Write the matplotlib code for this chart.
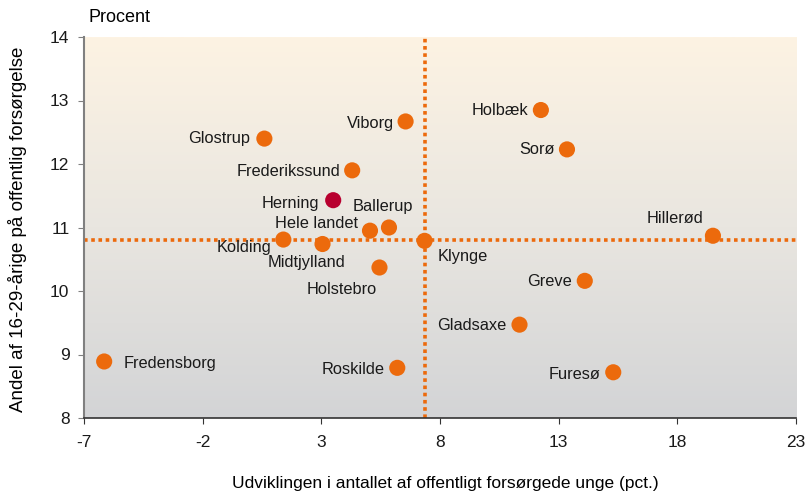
import numpy as np
import matplotlib
matplotlib.use("Agg")
import matplotlib.pyplot as plt
from matplotlib.colors import LinearSegmentedColormap

plt.rcParams['font.family'] = ['Liberation Sans', 'DejaVu Sans']
plt.rcParams['axes.unicode_minus'] = False

# data
names = ["Fredensborg", "Glostrup", "Viborg", "Frederikssund", "Herning", "Ballerup",
         "Hele landet", "Kolding", "Midtjylland", "Klynge", "Holstebro", "Roskilde",
         "Holbæk", "Sorø", "Hillerød", "Greve", "Gladsaxe", "Furesø"]
udvikling = [-6.15, 0.6, 6.55, 4.3, 3.5, 5.85, 5.05, 1.4, 3.05, 7.35, 5.45, 6.2,
             12.25, 13.35, 19.5, 14.1, 11.35, 15.3]
andel = [8.89, 12.4, 12.67, 11.9, 11.43, 11.0, 10.95, 10.81, 10.74, 10.79, 10.37, 8.79,
         12.85, 12.23, 10.87, 10.16, 9.47, 8.72]
highlight = "Herning"
klynge_x = 7.35
klynge_y = 10.81

xticks = [-7, -2, 3, 8, 13, 18, 23]
yticks = [8, 9, 10, 11, 12, 13, 14]

# label placement: (dx px, dy px, ha)
label_pos = {
    "Fredensborg": (19, -2, "left"),
    "Glostrup": (-14, 0, "right"),
    "Viborg": (-12, -2, "right"),
    "Frederikssund": (-12, -1, "right"),
    "Herning": (-14, -3, "right"),
    "Ballerup": (-6, 21, "center"),
    "Hele landet": (-12, 7, "right"),
    "Kolding": (-12, -8, "right"),
    "Midtjylland": (23, -18, "right"),
    "Klynge": (13, -16, "left"),
    "Holstebro": (-38, -22, "center"),
    "Roskilde": (-13, -2, "right"),
    "Holbæk": (-13, 0, "right"),
    "Sorø": (-12, 0, "right"),
    "Hillerød": (-10, 17, "right"),
    "Greve": (-13, -1, "right"),
    "Gladsaxe": (-13, -1, "right"),
    "Furesø": (-13, -2, "right"),
}

orange = "#EC6A0C"
red = "#B8002F"

fig = plt.figure(figsize=(8.05, 4.96), dpi=100)
ax = fig.add_axes([84 / 805, 1 - 418 / 496, (796 - 84) / 805, (418 - 37) / 496])

ax.set_xlim(-7, 23)
ax.set_ylim(8, 14)

# gradient background
grad = LinearSegmentedColormap.from_list("bg", ["#D3D4D6", "#E9E6E0", "#FDF3E3"])
ax.imshow(np.linspace(0, 1, 256).reshape(-1, 1), cmap=grad, aspect="auto",
          extent=[-7, 23, 8, 14], origin="lower", zorder=0)

ax.axhline(klynge_y, color=orange, lw=2.6, ls=(0, (1, 1)), zorder=1)
ax.axvline(klynge_x, color=orange, lw=2.6, ls=(0, (1, 1)), zorder=1)

colors = [red if n == highlight else orange for n in names]
ax.scatter(udvikling, andel, s=135, c=colors, edgecolors="none", zorder=3)

for n, x, y in zip(names, udvikling, andel):
    dx, dy, ha = label_pos[n]
    ax.annotate(n, (x, y), xytext=(dx * 0.72, dy * 0.72), textcoords="offset points",
                ha=ha, va="center", fontsize=11.8, color="#1a1a1a", zorder=4)

ax.set_xticks(xticks)
ax.set_yticks(yticks)
ax.tick_params(direction="out", length=4.5, labelsize=12.5, pad=6)
ax.tick_params(axis="x", pad=8)
for s in ["top", "right"]:
    ax.spines[s].set_visible(False)
ax.spines["left"].set_color("#808080")
ax.spines["left"].set_linewidth(1.5)
ax.spines["bottom"].set_color("#333333")
ax.spines["bottom"].set_linewidth(1.2)
ax.tick_params(axis="y", colors="#808080", labelcolor="#1a1a1a")
ax.tick_params(axis="x", colors="#333333", labelcolor="#1a1a1a")

ax.set_xlabel("Udviklingen i antallet af offentligt forsørgede unge (pct.)", fontsize=12.5, va="center")
ax.xaxis.set_label_coords(0.508, -0.171)
ax.set_ylabel("Andel af 16-29-årige på offentlig forsørgelse", fontsize=13.5, va="center")
ax.yaxis.set_label_coords(-0.093, 0.496)
fig.text(88 / 805, 1 - 17 / 496, "Procent", fontsize=13, va="center", ha="left")

fig.savefig("out.png", dpi=100)
